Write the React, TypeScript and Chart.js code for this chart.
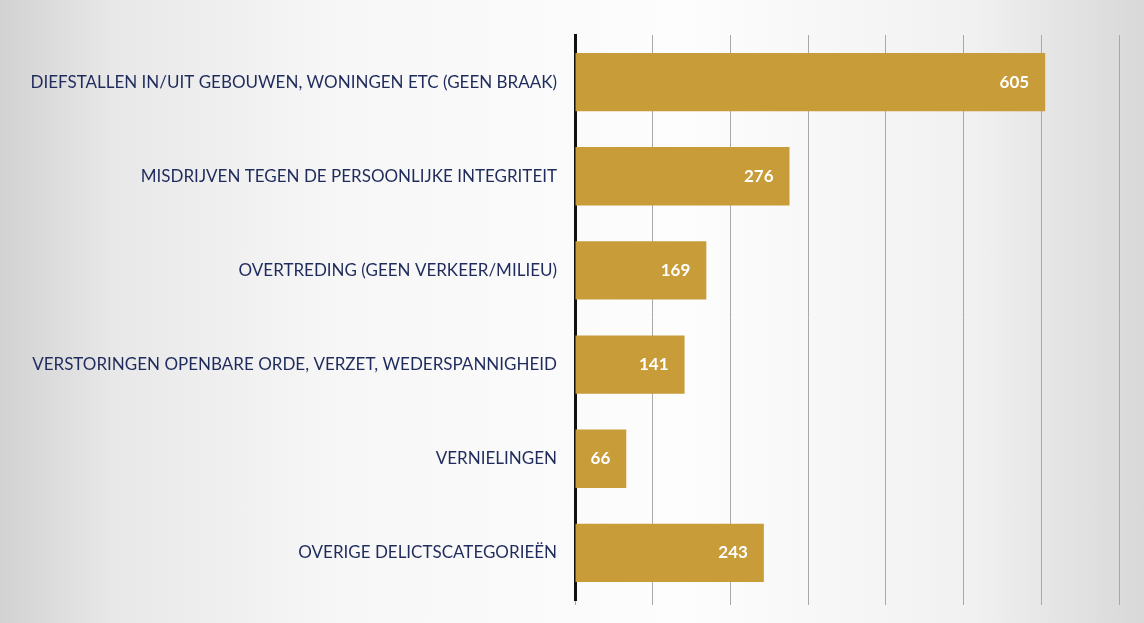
import React, { useEffect, useRef } from "react";
import { Chart, registerables } from "chart.js";

Chart.register(...registerables);

const categories = [
  "DIEFSTALLEN IN/UIT GEBOUWEN, WONINGEN ETC (GEEN BRAAK)",
  "MISDRIJVEN TEGEN DE PERSOONLIJKE INTEGRITEIT",
  "OVERTREDING (GEEN VERKEER/MILIEU)",
  "VERSTORINGEN OPENBARE ORDE, VERZET, WEDERSPANNIGHEID",
  "VERNIELINGEN",
  "OVERIGE DELICTSCATEGORIEËN",
];
const values = [605, 276, 169, 141, 66, 243];
const axisMax = 700;
const axisStep = 100;

const BAR_COLOR = "#C89C38";
const LABEL_COLOR = "#1F2B5C";
const FONT = "Lato, 'Open Sans', sans-serif";

const valueLabels = {
  id: "valueLabels",
  afterDatasetsDraw(chart: any) {
    const ctx = chart.ctx;
    const meta = chart.getDatasetMeta(0);
    ctx.save();
    ctx.fillStyle = "#ffffff";
    ctx.font = `bold 17px ${FONT}`;
    ctx.textAlign = "right";
    ctx.textBaseline = "middle";
    meta.data.forEach((bar: any, i: number) => {
      ctx.fillText(String(values[i]), bar.x - 16, bar.y);
    });
    ctx.restore();
  },
};

export default function App() {
  const ref = useRef<HTMLCanvasElement | null>(null);
  useEffect(() => {
    if (!ref.current) return;
    const chart = new Chart(ref.current, {
      type: "bar",
      data: {
        labels: categories,
        datasets: [
          {
            data: values,
            backgroundColor: BAR_COLOR,
            barPercentage: 0.62,
            categoryPercentage: 1,
          },
        ],
      },
      options: {
        indexAxis: "y",
        animation: false,
        responsive: false,
        layout: { padding: { left: 0, right: 25, top: 35, bottom: 0 } },
        plugins: {
          legend: { display: false },
          tooltip: { enabled: false },
        },
        scales: {
          x: {
            min: 0,
            max: axisMax,
            ticks: { stepSize: axisStep, display: false },
            grid: {
              color: "#a8a8a8",
              lineWidth: 1,
              drawTicks: true,
              tickLength: 5,
            },
            border: { display: false },
            afterFit(scale: any) {
              scale.height = 23;
            },
          },
          y: {
            ticks: {
              color: LABEL_COLOR,
              font: { family: FONT, size: 17 },
              padding: 18,
            },
            grid: { display: false, drawTicks: false },
            border: { display: true, color: "#111111", width: 3 },
            afterFit(scale: any) {
              scale.width = 575;
              scale.paddingTop = 0;
              scale.paddingBottom = 0;
            },
          },
        },
      },
      plugins: [valueLabels],
    });
    return () => chart.destroy();
  }, []);

  return (
    <div
      style={{
        position: "fixed",
        left: 0,
        top: 0,
        width: 1144,
        height: 623,
        background:
          "linear-gradient(90deg, #d2d2d2 0%, #e8e8e8 10%, #f7f7f7 30%, #fdfdfd 60%, #f1f1f1 85%, #d8d8d8 100%)",
      }}
    >
      <canvas ref={ref} width={1144} height={623} />
    </div>
  );
}
